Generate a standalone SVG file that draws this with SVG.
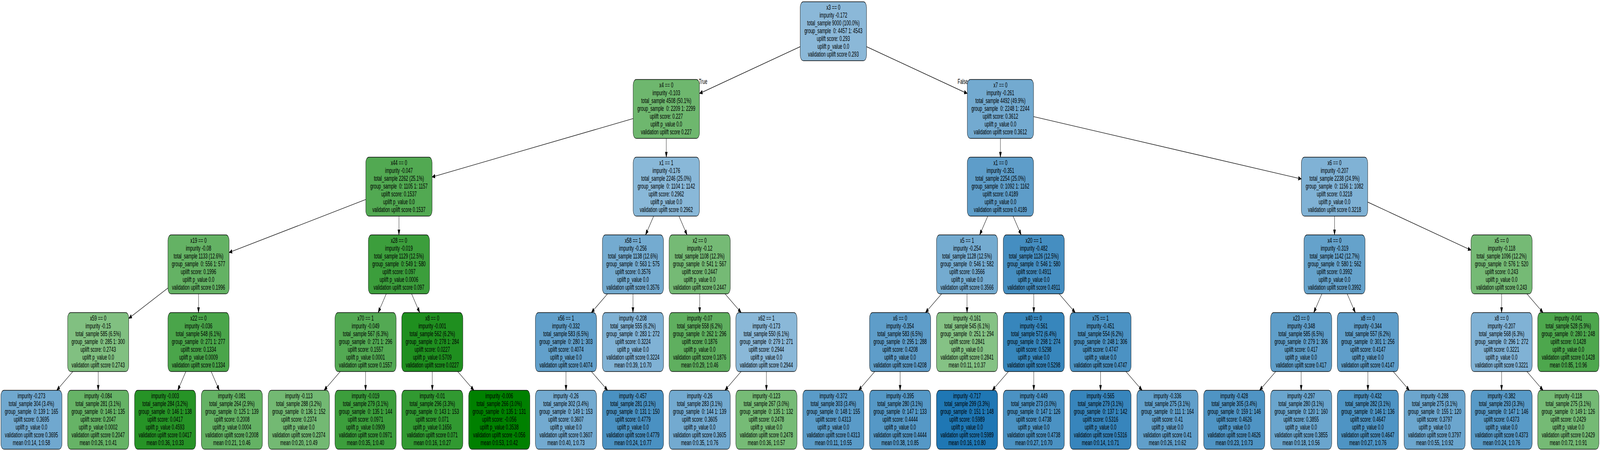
<svg xmlns="http://www.w3.org/2000/svg" width="7121" height="1155" viewBox="0 0 7121 1155" preserveAspectRatio="none" style="width:100vw;height:100vh;display:block">
<style>
text{font-family:"Liberation Sans",Arial,Helvetica,sans-serif;font-size:18.67px;text-anchor:middle;fill:#000;white-space:pre}
.node rect{stroke:#000;stroke-width:1.33}
#edges line{stroke:#000;stroke-width:1.33;fill:none;marker-end:url(#ah)}
</style>
<defs>
<marker id="ah" markerUnits="userSpaceOnUse" markerWidth="16" markerHeight="12" viewBox="0 0 16 12" refX="13.8" refY="6" orient="auto"><path d="M0.5,1.1 L13.8,6 L0.5,10.9 z" fill="#000" stroke="#000" stroke-width="1"/></marker>
</defs>
<rect x="0" y="0" width="7121" height="1155" fill="#fff"/>
<g id="edges">
<line x1="3561.5" y1="119.5" x2="3113" y2="239.5"/>
<line x1="3856.5" y1="119.5" x2="4305" y2="239.5"/>
<line x1="2818" y1="303.7" x2="1923" y2="453.3"/>
<line x1="2965.5" y1="354.5" x2="2965.5" y2="402.5"/>
<line x1="4452.5" y1="354.5" x2="4452.5" y2="402.5"/>
<line x1="4600" y1="298.7" x2="5792" y2="458.3"/>
<line x1="1628" y1="510.9" x2="1019.5" y2="646.7"/>
<line x1="1775.5" y1="553.5" x2="1775.5" y2="601.5"/>
<line x1="2909.2" y1="553.5" x2="2873.3" y2="601.5"/>
<line x1="3021.8" y1="553.5" x2="3057.7" y2="601.5"/>
<line x1="4396.2" y1="553.5" x2="4360.3" y2="601.5"/>
<line x1="4508.8" y1="553.5" x2="4544.7" y2="601.5"/>
<line x1="5939.5" y1="553.5" x2="5939.5" y2="601.5"/>
<line x1="6087" y1="517.5" x2="6547" y2="640.6"/>
<line x1="747.5" y1="737.6" x2="573" y2="815.4"/>
<line x1="883.5" y1="752.5" x2="883.5" y2="800.5"/>
<line x1="1719.2" y1="752.5" x2="1683.3" y2="800.5"/>
<line x1="1831.8" y1="752.5" x2="1867.7" y2="800.5"/>
<line x1="2703.9" y1="752.5" x2="2632.1" y2="800.5"/>
<line x1="2817" y1="752.5" x2="2817" y2="800.5"/>
<line x1="3114" y1="752.5" x2="3114" y2="800.5"/>
<line x1="3226.8" y1="752.5" x2="3298.6" y2="800.5"/>
<line x1="4190.9" y1="752.5" x2="4119.1" y2="800.5"/>
<line x1="4304" y1="752.5" x2="4304" y2="800.5"/>
<line x1="4601" y1="752.5" x2="4601" y2="800.5"/>
<line x1="4713.7" y1="752.5" x2="4785.3" y2="800.5"/>
<line x1="5883.2" y1="752.5" x2="5847.3" y2="800.5"/>
<line x1="5995.8" y1="752.5" x2="6031.7" y2="800.5"/>
<line x1="6683" y1="752.5" x2="6683" y2="800.5"/>
<line x1="6795.7" y1="752.5" x2="6867.3" y2="800.5"/>
<line x1="324.3" y1="951.5" x2="252.7" y2="999.5"/>
<line x1="437" y1="951.5" x2="437" y2="999.5"/>
<line x1="827.2" y1="951.5" x2="791.3" y2="999.5"/>
<line x1="939.8" y1="951.5" x2="975.7" y2="999.5"/>
<line x1="1514.3" y1="951.5" x2="1442.7" y2="999.5"/>
<line x1="1627" y1="951.5" x2="1627" y2="999.5"/>
<line x1="1924" y1="951.5" x2="1924" y2="999.5"/>
<line x1="2037.1" y1="951.5" x2="2108.9" y2="999.5"/>
<line x1="2519" y1="951.5" x2="2519" y2="999.5"/>
<line x1="2632.1" y1="951.5" x2="2703.9" y2="999.5"/>
<line x1="3298.3" y1="951.5" x2="3226.7" y2="999.5"/>
<line x1="3411" y1="951.5" x2="3411" y2="999.5"/>
<line x1="3893.3" y1="951.5" x2="3821.7" y2="999.5"/>
<line x1="4006" y1="951.5" x2="4006" y2="999.5"/>
<line x1="4488.3" y1="951.5" x2="4416.7" y2="999.5"/>
<line x1="4601" y1="951.5" x2="4601" y2="999.5"/>
<line x1="4898" y1="951.5" x2="4898" y2="999.5"/>
<line x1="5011.1" y1="951.5" x2="5082.9" y2="999.5"/>
<line x1="5677.9" y1="951.5" x2="5606.1" y2="999.5"/>
<line x1="5791" y1="951.5" x2="5791" y2="999.5"/>
<line x1="6088" y1="951.5" x2="6088" y2="999.5"/>
<line x1="6200.7" y1="951.5" x2="6272.3" y2="999.5"/>
<line x1="6683" y1="951.5" x2="6683" y2="999.5"/>
<line x1="6795.7" y1="951.5" x2="6867.3" y2="999.5"/>
<text x="3129" y="215">True</text>
<text x="4285" y="215">False</text>
</g>
<g id="nodes">
<g id="n0" class="node"><rect x="3561.5" y="4.5" width="295" height="151" rx="14" fill="#8bb8d8"/><text x="3709" y="25.5"><tspan x="3709">x3 == 0</tspan><tspan x="3709" dy="20">impurity -0.172</tspan><tspan x="3709" dy="20">total_sample 9000 (100.0%)</tspan><tspan x="3709" dy="20">group_sample  0: 4457 1: 4543</tspan><tspan x="3709" dy="20">uplift score: 0.293</tspan><tspan x="3709" dy="20">uplift p_value 0.0</tspan><tspan x="3709" dy="20">validation uplift score 0.293</tspan></text></g>
<g id="n_x4" class="node"><rect x="2818" y="203.5" width="295" height="151" rx="14" fill="#6eb76e"/><text x="2965.5" y="224.5"><tspan x="2965.5">x4 == 0</tspan><tspan x="2965.5" dy="20">impurity -0.103</tspan><tspan x="2965.5" dy="20">total_sample 4508 (50.1%)</tspan><tspan x="2965.5" dy="20">group_sample  0: 2209 1: 2299</tspan><tspan x="2965.5" dy="20">uplift score: 0.227</tspan><tspan x="2965.5" dy="20">uplift p_value 0.0</tspan><tspan x="2965.5" dy="20">validation uplift score 0.227</tspan></text></g>
<g id="n_x7" class="node"><rect x="4305" y="203.5" width="295" height="151" rx="14" fill="#73aad0"/><text x="4452.5" y="224.5"><tspan x="4452.5">x7 == 0</tspan><tspan x="4452.5" dy="20">impurity -0.261</tspan><tspan x="4452.5" dy="20">total_sample 4492 (49.9%)</tspan><tspan x="4452.5" dy="20">group_sample  0: 2248 1: 2244</tspan><tspan x="4452.5" dy="20">uplift score: 0.3612</tspan><tspan x="4452.5" dy="20">uplift p_value 0.0</tspan><tspan x="4452.5" dy="20">validation uplift score 0.3612</tspan></text></g>
<g id="n_x44" class="node"><rect x="1628" y="402.5" width="295" height="151" rx="14" fill="#52a952"/><text x="1775.5" y="423.5"><tspan x="1775.5">x44 == 0</tspan><tspan x="1775.5" dy="20">impurity -0.047</tspan><tspan x="1775.5" dy="20">total_sample 2262 (25.1%)</tspan><tspan x="1775.5" dy="20">group_sample  0: 1105 1: 1157</tspan><tspan x="1775.5" dy="20">uplift score: 0.1537</tspan><tspan x="1775.5" dy="20">uplift p_value 0.0</tspan><tspan x="1775.5" dy="20">validation uplift score 0.1537</tspan></text></g>
<g id="n_x1a" class="node"><rect x="2818" y="402.5" width="295" height="151" rx="14" fill="#89b8d8"/><text x="2965.5" y="423.5"><tspan x="2965.5">x1 == 1</tspan><tspan x="2965.5" dy="20">impurity -0.176</tspan><tspan x="2965.5" dy="20">total_sample 2246 (25.0%)</tspan><tspan x="2965.5" dy="20">group_sample  0: 1104 1: 1142</tspan><tspan x="2965.5" dy="20">uplift score: 0.2962</tspan><tspan x="2965.5" dy="20">uplift p_value 0.0</tspan><tspan x="2965.5" dy="20">validation uplift score 0.2962</tspan></text></g>
<g id="n_x1b" class="node"><rect x="4305" y="402.5" width="295" height="151" rx="14" fill="#5e9dc9"/><text x="4452.5" y="423.5"><tspan x="4452.5">x1 == 0</tspan><tspan x="4452.5" dy="20">impurity -0.351</tspan><tspan x="4452.5" dy="20">total_sample 2254 (25.0%)</tspan><tspan x="4452.5" dy="20">group_sample  0: 1092 1: 1162</tspan><tspan x="4452.5" dy="20">uplift score: 0.4189</tspan><tspan x="4452.5" dy="20">uplift p_value 0.0</tspan><tspan x="4452.5" dy="20">validation uplift score 0.4189</tspan></text></g>
<g id="n_x6" class="node"><rect x="5792" y="402.5" width="295" height="151" rx="14" fill="#80b2d5"/><text x="5939.5" y="423.5"><tspan x="5939.5">x6 == 0</tspan><tspan x="5939.5" dy="20">impurity -0.207</tspan><tspan x="5939.5" dy="20">total_sample 2238 (24.9%)</tspan><tspan x="5939.5" dy="20">group_sample  0: 1156 1: 1082</tspan><tspan x="5939.5" dy="20">uplift score: 0.3218</tspan><tspan x="5939.5" dy="20">uplift p_value 0.0</tspan><tspan x="5939.5" dy="20">validation uplift score 0.3218</tspan></text></g>
<g id="n_x19" class="node"><rect x="747.5" y="601.5" width="272" height="151" rx="14" fill="#64b264"/><text x="883.5" y="622.5"><tspan x="883.5">x19 == 0</tspan><tspan x="883.5" dy="20">impurity -0.08</tspan><tspan x="883.5" dy="20">total_sample 1133 (12.6%)</tspan><tspan x="883.5" dy="20">group_sample  0: 556 1: 577</tspan><tspan x="883.5" dy="20">uplift score: 0.1996</tspan><tspan x="883.5" dy="20">uplift p_value 0.0</tspan><tspan x="883.5" dy="20">validation uplift score 0.1996</tspan></text></g>
<g id="n_x28" class="node"><rect x="1639.5" y="601.5" width="272" height="151" rx="14" fill="#3c9e3c"/><text x="1775.5" y="622.5"><tspan x="1775.5">x28 == 0</tspan><tspan x="1775.5" dy="20">impurity -0.019</tspan><tspan x="1775.5" dy="20">total_sample 1129 (12.5%)</tspan><tspan x="1775.5" dy="20">group_sample  0: 549 1: 580</tspan><tspan x="1775.5" dy="20">uplift score: 0.097</tspan><tspan x="1775.5" dy="20">uplift p_value 0.0006</tspan><tspan x="1775.5" dy="20">validation uplift score 0.097</tspan></text></g>
<g id="n_x58" class="node"><rect x="2681" y="601.5" width="272" height="151" rx="14" fill="#74abd0"/><text x="2817" y="622.5"><tspan x="2817">x58 == 1</tspan><tspan x="2817" dy="20">impurity -0.256</tspan><tspan x="2817" dy="20">total_sample 1138 (12.6%)</tspan><tspan x="2817" dy="20">group_sample  0: 563 1: 575</tspan><tspan x="2817" dy="20">uplift score: 0.3576</tspan><tspan x="2817" dy="20">uplift p_value 0.0</tspan><tspan x="2817" dy="20">validation uplift score 0.3576</tspan></text></g>
<g id="n_x2" class="node"><rect x="2978" y="601.5" width="272" height="151" rx="14" fill="#75ba75"/><text x="3114" y="622.5"><tspan x="3114">x2 == 0</tspan><tspan x="3114" dy="20">impurity -0.12</tspan><tspan x="3114" dy="20">total_sample 1108 (12.3%)</tspan><tspan x="3114" dy="20">group_sample  0: 541 1: 567</tspan><tspan x="3114" dy="20">uplift score: 0.2447</tspan><tspan x="3114" dy="20">uplift p_value 0.0</tspan><tspan x="3114" dy="20">validation uplift score 0.2447</tspan></text></g>
<g id="n_x5a" class="node"><rect x="4168" y="601.5" width="272" height="151" rx="14" fill="#74abd0"/><text x="4304" y="622.5"><tspan x="4304">x5 == 1</tspan><tspan x="4304" dy="20">impurity -0.254</tspan><tspan x="4304" dy="20">total_sample 1128 (12.5%)</tspan><tspan x="4304" dy="20">group_sample  0: 546 1: 582</tspan><tspan x="4304" dy="20">uplift score: 0.3566</tspan><tspan x="4304" dy="20">uplift p_value 0.0</tspan><tspan x="4304" dy="20">validation uplift score 0.3566</tspan></text></g>
<g id="n_x20" class="node"><rect x="4465" y="601.5" width="272" height="151" rx="14" fill="#458ec1"/><text x="4601" y="622.5"><tspan x="4601">x20 == 1</tspan><tspan x="4601" dy="20">impurity -0.482</tspan><tspan x="4601" dy="20">total_sample 1126 (12.5%)</tspan><tspan x="4601" dy="20">group_sample  0: 546 1: 580</tspan><tspan x="4601" dy="20">uplift score: 0.4911</tspan><tspan x="4601" dy="20">uplift p_value 0.0</tspan><tspan x="4601" dy="20">validation uplift score 0.4911</tspan></text></g>
<g id="n_x4b" class="node"><rect x="5803.5" y="601.5" width="272" height="151" rx="14" fill="#65a2cb"/><text x="5939.5" y="622.5"><tspan x="5939.5">x4 == 0</tspan><tspan x="5939.5" dy="20">impurity -0.319</tspan><tspan x="5939.5" dy="20">total_sample 1142 (12.7%)</tspan><tspan x="5939.5" dy="20">group_sample  0: 580 1: 562</tspan><tspan x="5939.5" dy="20">uplift score: 0.3992</tspan><tspan x="5939.5" dy="20">uplift p_value 0.0</tspan><tspan x="5939.5" dy="20">validation uplift score 0.3992</tspan></text></g>
<g id="n_x5b" class="node"><rect x="6547" y="601.5" width="272" height="151" rx="14" fill="#75ba75"/><text x="6683" y="622.5"><tspan x="6683">x5 == 0</tspan><tspan x="6683" dy="20">impurity -0.118</tspan><tspan x="6683" dy="20">total_sample 1096 (12.2%)</tspan><tspan x="6683" dy="20">group_sample  0: 576 1: 520</tspan><tspan x="6683" dy="20">uplift score: 0.243</tspan><tspan x="6683" dy="20">uplift p_value 0.0</tspan><tspan x="6683" dy="20">validation uplift score 0.243</tspan></text></g>
<g id="n_x59" class="node"><rect x="301" y="800.5" width="272" height="151" rx="14" fill="#81c081"/><text x="437" y="821.5"><tspan x="437">x59 == 0</tspan><tspan x="437" dy="20">impurity -0.15</tspan><tspan x="437" dy="20">total_sample 585 (6.5%)</tspan><tspan x="437" dy="20">group_sample  0: 285 1: 300</tspan><tspan x="437" dy="20">uplift score: 0.2743</tspan><tspan x="437" dy="20">uplift p_value 0.0</tspan><tspan x="437" dy="20">validation uplift score 0.2743</tspan></text></g>
<g id="n_x22" class="node"><rect x="747.5" y="800.5" width="272" height="151" rx="14" fill="#4aa54a"/><text x="883.5" y="821.5"><tspan x="883.5">x22 == 0</tspan><tspan x="883.5" dy="20">impurity -0.036</tspan><tspan x="883.5" dy="20">total_sample 548 (6.1%)</tspan><tspan x="883.5" dy="20">group_sample  0: 271 1: 277</tspan><tspan x="883.5" dy="20">uplift score: 0.1334</tspan><tspan x="883.5" dy="20">uplift p_value 0.0009</tspan><tspan x="883.5" dy="20">validation uplift score 0.1334</tspan></text></g>
<g id="n_x70" class="node"><rect x="1491" y="800.5" width="272" height="151" rx="14" fill="#53a953"/><text x="1627" y="821.5"><tspan x="1627">x70 == 1</tspan><tspan x="1627" dy="20">impurity -0.049</tspan><tspan x="1627" dy="20">total_sample 567 (6.3%)</tspan><tspan x="1627" dy="20">group_sample  0: 271 1: 296</tspan><tspan x="1627" dy="20">uplift score: 0.1557</tspan><tspan x="1627" dy="20">uplift p_value 0.0001</tspan><tspan x="1627" dy="20">validation uplift score 0.1557</tspan></text></g>
<g id="n_x8a" class="node"><rect x="1788" y="800.5" width="272" height="151" rx="14" fill="#1f8f1f"/><text x="1924" y="821.5"><tspan x="1924">x8 == 0</tspan><tspan x="1924" dy="20">impurity -0.001</tspan><tspan x="1924" dy="20">total_sample 562 (6.2%)</tspan><tspan x="1924" dy="20">group_sample  0: 278 1: 284</tspan><tspan x="1924" dy="20">uplift score: 0.0227</tspan><tspan x="1924" dy="20">uplift p_value 0.5709</tspan><tspan x="1924" dy="20">validation uplift score 0.0227</tspan></text></g>
<g id="n_x56" class="node"><rect x="2383" y="800.5" width="272" height="151" rx="14" fill="#62a0cb"/><text x="2519" y="821.5"><tspan x="2519">x56 == 1</tspan><tspan x="2519" dy="20">impurity -0.332</tspan><tspan x="2519" dy="20">total_sample 583 (6.5%)</tspan><tspan x="2519" dy="20">group_sample  0: 280 1: 303</tspan><tspan x="2519" dy="20">uplift score: 0.4074</tspan><tspan x="2519" dy="20">uplift p_value 0.0</tspan><tspan x="2519" dy="20">validation uplift score 0.4074</tspan></text></g>
<g id="n_lA" class="node"><rect x="2681" y="800.5" width="272" height="151" rx="14" fill="#80b2d5"/><text x="2817" y="821.5"><tspan x="2817">impurity -0.208</tspan><tspan x="2817" dy="20">total_sample 555 (6.2%)</tspan><tspan x="2817" dy="20">group_sample  0: 283 1: 272</tspan><tspan x="2817" dy="20">uplift score: 0.3224</tspan><tspan x="2817" dy="20">uplift p_value 0.0</tspan><tspan x="2817" dy="20">validation uplift score 0.3224</tspan><tspan x="2817" dy="20">mean 0:0.39, 1:0.70</tspan></text></g>
<g id="n_lB" class="node"><rect x="2978" y="800.5" width="272" height="151" rx="14" fill="#5faf5f"/><text x="3114" y="821.5"><tspan x="3114">impurity -0.07</tspan><tspan x="3114" dy="20">total_sample 558 (6.2%)</tspan><tspan x="3114" dy="20">group_sample  0: 262 1: 296</tspan><tspan x="3114" dy="20">uplift score: 0.1876</tspan><tspan x="3114" dy="20">uplift p_value 0.0</tspan><tspan x="3114" dy="20">validation uplift score 0.1876</tspan><tspan x="3114" dy="20">mean 0:0.29, 1:0.46</tspan></text></g>
<g id="n_x62" class="node"><rect x="3275" y="800.5" width="272" height="151" rx="14" fill="#8ab8d8"/><text x="3411" y="821.5"><tspan x="3411">x62 == 1</tspan><tspan x="3411" dy="20">impurity -0.173</tspan><tspan x="3411" dy="20">total_sample 550 (6.1%)</tspan><tspan x="3411" dy="20">group_sample  0: 279 1: 271</tspan><tspan x="3411" dy="20">uplift score: 0.2944</tspan><tspan x="3411" dy="20">uplift p_value 0.0</tspan><tspan x="3411" dy="20">validation uplift score 0.2944</tspan></text></g>
<g id="n_x6b" class="node"><rect x="3870" y="800.5" width="272" height="151" rx="14" fill="#5e9dc9"/><text x="4006" y="821.5"><tspan x="4006">x6 == 0</tspan><tspan x="4006" dy="20">impurity -0.354</tspan><tspan x="4006" dy="20">total_sample 583 (6.5%)</tspan><tspan x="4006" dy="20">group_sample  0: 295 1: 288</tspan><tspan x="4006" dy="20">uplift score: 0.4208</tspan><tspan x="4006" dy="20">uplift p_value 0.0</tspan><tspan x="4006" dy="20">validation uplift score 0.4208</tspan></text></g>
<g id="n_lC" class="node"><rect x="4168" y="800.5" width="272" height="151" rx="14" fill="#85c285"/><text x="4304" y="821.5"><tspan x="4304">impurity -0.161</tspan><tspan x="4304" dy="20">total_sample 545 (6.1%)</tspan><tspan x="4304" dy="20">group_sample  0: 251 1: 294</tspan><tspan x="4304" dy="20">uplift score: 0.2841</tspan><tspan x="4304" dy="20">uplift p_value 0.0</tspan><tspan x="4304" dy="20">validation uplift score 0.2841</tspan><tspan x="4304" dy="20">mean 0:0.11, 1:0.37</tspan></text></g>
<g id="n_x40" class="node"><rect x="4465" y="800.5" width="272" height="151" rx="14" fill="#3786bc"/><text x="4601" y="821.5"><tspan x="4601">x40 == 0</tspan><tspan x="4601" dy="20">impurity -0.561</tspan><tspan x="4601" dy="20">total_sample 572 (6.4%)</tspan><tspan x="4601" dy="20">group_sample  0: 298 1: 274</tspan><tspan x="4601" dy="20">uplift score: 0.5298</tspan><tspan x="4601" dy="20">uplift p_value 0.0</tspan><tspan x="4601" dy="20">validation uplift score 0.5298</tspan></text></g>
<g id="n_x75" class="node"><rect x="4762" y="800.5" width="272" height="151" rx="14" fill="#4b92c3"/><text x="4898" y="821.5"><tspan x="4898">x75 == 1</tspan><tspan x="4898" dy="20">impurity -0.451</tspan><tspan x="4898" dy="20">total_sample 554 (6.2%)</tspan><tspan x="4898" dy="20">group_sample  0: 248 1: 306</tspan><tspan x="4898" dy="20">uplift score: 0.4747</tspan><tspan x="4898" dy="20">uplift p_value 0.0</tspan><tspan x="4898" dy="20">validation uplift score 0.4747</tspan></text></g>
<g id="n_x23" class="node"><rect x="5655" y="800.5" width="272" height="151" rx="14" fill="#5f9ec9"/><text x="5791" y="821.5"><tspan x="5791">x23 == 0</tspan><tspan x="5791" dy="20">impurity -0.348</tspan><tspan x="5791" dy="20">total_sample 585 (6.5%)</tspan><tspan x="5791" dy="20">group_sample  0: 279 1: 306</tspan><tspan x="5791" dy="20">uplift score: 0.417</tspan><tspan x="5791" dy="20">uplift p_value 0.0</tspan><tspan x="5791" dy="20">validation uplift score 0.417</tspan></text></g>
<g id="n_x8b" class="node"><rect x="5952" y="800.5" width="272" height="151" rx="14" fill="#5f9eca"/><text x="6088" y="821.5"><tspan x="6088">x8 == 0</tspan><tspan x="6088" dy="20">impurity -0.344</tspan><tspan x="6088" dy="20">total_sample 557 (6.2%)</tspan><tspan x="6088" dy="20">group_sample  0: 301 1: 256</tspan><tspan x="6088" dy="20">uplift score: 0.4147</tspan><tspan x="6088" dy="20">uplift p_value 0.0</tspan><tspan x="6088" dy="20">validation uplift score 0.4147</tspan></text></g>
<g id="n_x8c" class="node"><rect x="6547" y="800.5" width="272" height="151" rx="14" fill="#80b2d5"/><text x="6683" y="821.5"><tspan x="6683">x8 == 0</tspan><tspan x="6683" dy="20">impurity -0.207</tspan><tspan x="6683" dy="20">total_sample 568 (6.3%)</tspan><tspan x="6683" dy="20">group_sample  0: 296 1: 272</tspan><tspan x="6683" dy="20">uplift score: 0.3221</tspan><tspan x="6683" dy="20">uplift p_value 0.0</tspan><tspan x="6683" dy="20">validation uplift score 0.3221</tspan></text></g>
<g id="n_lD" class="node"><rect x="6844" y="800.5" width="272" height="151" rx="14" fill="#4da74d"/><text x="6980" y="821.5"><tspan x="6980">impurity -0.041</tspan><tspan x="6980" dy="20">total_sample 528 (5.9%)</tspan><tspan x="6980" dy="20">group_sample  0: 280 1: 248</tspan><tspan x="6980" dy="20">uplift score: 0.1428</tspan><tspan x="6980" dy="20">uplift p_value 0.0</tspan><tspan x="6980" dy="20">validation uplift score 0.1428</tspan><tspan x="6980" dy="20">mean 0:0.85, 1:0.96</tspan></text></g>
<g id="s0" class="node"><rect x="4" y="999.5" width="272" height="151" rx="14" fill="#70a8cf"/><text x="140" y="1020.5"><tspan x="140">impurity -0.273</tspan><tspan x="140" dy="20">total_sample 304 (3.4%)</tspan><tspan x="140" dy="20">group_sample  0: 139 1: 165</tspan><tspan x="140" dy="20">uplift score: 0.3695</tspan><tspan x="140" dy="20">uplift p_value 0.0</tspan><tspan x="140" dy="20">validation uplift score 0.3695</tspan><tspan x="140" dy="20">mean 0:0.14, 1:0.58</tspan></text></g>
<g id="s1" class="node"><rect x="301" y="999.5" width="272" height="151" rx="14" fill="#66b366"/><text x="437" y="1020.5"><tspan x="437">impurity -0.084</tspan><tspan x="437" dy="20">total_sample 281 (3.1%)</tspan><tspan x="437" dy="20">group_sample  0: 146 1: 135</tspan><tspan x="437" dy="20">uplift score: 0.2047</tspan><tspan x="437" dy="20">uplift p_value 0.0002</tspan><tspan x="437" dy="20">validation uplift score 0.2047</tspan><tspan x="437" dy="20">mean 0:0.26, 1:0.41</tspan></text></g>
<g id="s2" class="node"><rect x="599" y="999.5" width="272" height="151" rx="14" fill="#269326"/><text x="735" y="1020.5"><tspan x="735">impurity -0.003</tspan><tspan x="735" dy="20">total_sample 284 (3.2%)</tspan><tspan x="735" dy="20">group_sample  0: 146 1: 138</tspan><tspan x="735" dy="20">uplift score: 0.0417</tspan><tspan x="735" dy="20">uplift p_value 0.4593</tspan><tspan x="735" dy="20">validation uplift score 0.0417</tspan><tspan x="735" dy="20">mean 0:0.36, 1:0.33</tspan></text></g>
<g id="s3" class="node"><rect x="896" y="999.5" width="272" height="151" rx="14" fill="#64b264"/><text x="1032" y="1020.5"><tspan x="1032">impurity -0.081</tspan><tspan x="1032" dy="20">total_sample 264 (2.9%)</tspan><tspan x="1032" dy="20">group_sample  0: 125 1: 139</tspan><tspan x="1032" dy="20">uplift score: 0.2008</tspan><tspan x="1032" dy="20">uplift p_value 0.0004</tspan><tspan x="1032" dy="20">validation uplift score 0.2008</tspan><tspan x="1032" dy="20">mean 0:0.21, 1:0.46</tspan></text></g>
<g id="s4" class="node"><rect x="1194" y="999.5" width="272" height="151" rx="14" fill="#73b973"/><text x="1330" y="1020.5"><tspan x="1330">impurity -0.113</tspan><tspan x="1330" dy="20">total_sample 288 (3.2%)</tspan><tspan x="1330" dy="20">group_sample  0: 136 1: 152</tspan><tspan x="1330" dy="20">uplift score: 0.2374</tspan><tspan x="1330" dy="20">uplift p_value 0.0</tspan><tspan x="1330" dy="20">validation uplift score 0.2374</tspan><tspan x="1330" dy="20">mean 0:0.20, 1:0.49</tspan></text></g>
<g id="s5" class="node"><rect x="1491" y="999.5" width="272" height="151" rx="14" fill="#3c9e3c"/><text x="1627" y="1020.5"><tspan x="1627">impurity -0.019</tspan><tspan x="1627" dy="20">total_sample 279 (3.1%)</tspan><tspan x="1627" dy="20">group_sample  0: 135 1: 144</tspan><tspan x="1627" dy="20">uplift score: 0.0971</tspan><tspan x="1627" dy="20">uplift p_value 0.0909</tspan><tspan x="1627" dy="20">validation uplift score 0.0971</tspan><tspan x="1627" dy="20">mean 0:0.35, 1:0.40</tspan></text></g>
<g id="s6" class="node"><rect x="1788" y="999.5" width="272" height="151" rx="14" fill="#319931"/><text x="1924" y="1020.5"><tspan x="1924">impurity -0.01</tspan><tspan x="1924" dy="20">total_sample 296 (3.3%)</tspan><tspan x="1924" dy="20">group_sample  0: 143 1: 153</tspan><tspan x="1924" dy="20">uplift score: 0.071</tspan><tspan x="1924" dy="20">uplift p_value 0.1656</tspan><tspan x="1924" dy="20">validation uplift score 0.071</tspan><tspan x="1924" dy="20">mean 0:0.16, 1:0.27</tspan></text></g>
<g id="s7" class="node"><rect x="2086" y="999.5" width="272" height="151" rx="14" fill="#008000"/><text x="2222" y="1020.5"><tspan x="2222">impurity -0.006</tspan><tspan x="2222" dy="20">total_sample 266 (3.0%)</tspan><tspan x="2222" dy="20">group_sample  0: 135 1: 131</tspan><tspan x="2222" dy="20">uplift score: -0.056</tspan><tspan x="2222" dy="20">uplift p_value 0.3538</tspan><tspan x="2222" dy="20">validation uplift score -0.056</tspan><tspan x="2222" dy="20">mean 0:0.53, 1:0.42</tspan></text></g>
<g id="s8" class="node"><rect x="2383" y="999.5" width="272" height="151" rx="14" fill="#73aad0"/><text x="2519" y="1020.5"><tspan x="2519">impurity -0.26</tspan><tspan x="2519" dy="20">total_sample 302 (3.4%)</tspan><tspan x="2519" dy="20">group_sample  0: 149 1: 153</tspan><tspan x="2519" dy="20">uplift score: 0.3607</tspan><tspan x="2519" dy="20">uplift p_value 0.0</tspan><tspan x="2519" dy="20">validation uplift score 0.3607</tspan><tspan x="2519" dy="20">mean 0:0.40, 1:0.73</tspan></text></g>
<g id="s9" class="node"><rect x="2681" y="999.5" width="272" height="151" rx="14" fill="#4a91c2"/><text x="2817" y="1020.5"><tspan x="2817">impurity -0.457</tspan><tspan x="2817" dy="20">total_sample 281 (3.1%)</tspan><tspan x="2817" dy="20">group_sample  0: 131 1: 150</tspan><tspan x="2817" dy="20">uplift score: 0.4779</tspan><tspan x="2817" dy="20">uplift p_value 0.0</tspan><tspan x="2817" dy="20">validation uplift score 0.4779</tspan><tspan x="2817" dy="20">mean 0:0.24, 1:0.77</tspan></text></g>
<g id="s10" class="node"><rect x="2978" y="999.5" width="272" height="151" rx="14" fill="#73aad0"/><text x="3114" y="1020.5"><tspan x="3114">impurity -0.26</tspan><tspan x="3114" dy="20">total_sample 283 (3.1%)</tspan><tspan x="3114" dy="20">group_sample  0: 144 1: 139</tspan><tspan x="3114" dy="20">uplift score: 0.3605</tspan><tspan x="3114" dy="20">uplift p_value 0.0</tspan><tspan x="3114" dy="20">validation uplift score 0.3605</tspan><tspan x="3114" dy="20">mean 0:0.35, 1:0.76</tspan></text></g>
<g id="s11" class="node"><rect x="3275" y="999.5" width="272" height="151" rx="14" fill="#76bb76"/><text x="3411" y="1020.5"><tspan x="3411">impurity -0.123</tspan><tspan x="3411" dy="20">total_sample 267 (3.0%)</tspan><tspan x="3411" dy="20">group_sample  0: 135 1: 132</tspan><tspan x="3411" dy="20">uplift score: 0.2478</tspan><tspan x="3411" dy="20">uplift p_value 0.0</tspan><tspan x="3411" dy="20">validation uplift score 0.2478</tspan><tspan x="3411" dy="20">mean 0:0.36, 1:0.57</tspan></text></g>
<g id="s12" class="node"><rect x="3573" y="999.5" width="272" height="151" rx="14" fill="#5a9bc8"/><text x="3709" y="1020.5"><tspan x="3709">impurity -0.372</tspan><tspan x="3709" dy="20">total_sample 303 (3.4%)</tspan><tspan x="3709" dy="20">group_sample  0: 148 1: 155</tspan><tspan x="3709" dy="20">uplift score: 0.4313</tspan><tspan x="3709" dy="20">uplift p_value 0.0</tspan><tspan x="3709" dy="20">validation uplift score 0.4313</tspan><tspan x="3709" dy="20">mean 0:0.11, 1:0.55</tspan></text></g>
<g id="s13" class="node"><rect x="3870" y="999.5" width="272" height="151" rx="14" fill="#5598c6"/><text x="4006" y="1020.5"><tspan x="4006">impurity -0.395</tspan><tspan x="4006" dy="20">total_sample 280 (3.1%)</tspan><tspan x="4006" dy="20">group_sample  0: 147 1: 133</tspan><tspan x="4006" dy="20">uplift score: 0.4444</tspan><tspan x="4006" dy="20">uplift p_value 0.0</tspan><tspan x="4006" dy="20">validation uplift score 0.4444</tspan><tspan x="4006" dy="20">mean 0:0.38, 1:0.85</tspan></text></g>
<g id="s14" class="node"><rect x="4168" y="999.5" width="272" height="151" rx="14" fill="#1f77b4"/><text x="4304" y="1020.5"><tspan x="4304">impurity -0.717</tspan><tspan x="4304" dy="20">total_sample 299 (3.3%)</tspan><tspan x="4304" dy="20">group_sample  0: 151 1: 148</tspan><tspan x="4304" dy="20">uplift score: 0.5989</tspan><tspan x="4304" dy="20">uplift p_value 0.0</tspan><tspan x="4304" dy="20">validation uplift score 0.5989</tspan><tspan x="4304" dy="20">mean 0:0.16, 1:0.80</tspan></text></g>
<g id="s15" class="node"><rect x="4465" y="999.5" width="272" height="151" rx="14" fill="#4b92c3"/><text x="4601" y="1020.5"><tspan x="4601">impurity -0.449</tspan><tspan x="4601" dy="20">total_sample 273 (3.0%)</tspan><tspan x="4601" dy="20">group_sample  0: 147 1: 126</tspan><tspan x="4601" dy="20">uplift score: 0.4738</tspan><tspan x="4601" dy="20">uplift p_value 0.0</tspan><tspan x="4601" dy="20">validation uplift score 0.4738</tspan><tspan x="4601" dy="20">mean 0:0.27, 1:0.70</tspan></text></g>
<g id="s16" class="node"><rect x="4762" y="999.5" width="272" height="151" rx="14" fill="#3785bc"/><text x="4898" y="1020.5"><tspan x="4898">impurity -0.565</tspan><tspan x="4898" dy="20">total_sample 279 (3.1%)</tspan><tspan x="4898" dy="20">group_sample  0: 137 1: 142</tspan><tspan x="4898" dy="20">uplift score: 0.5316</tspan><tspan x="4898" dy="20">uplift p_value 0.0</tspan><tspan x="4898" dy="20">validation uplift score 0.5316</tspan><tspan x="4898" dy="20">mean 0:0.14, 1:0.71</tspan></text></g>
<g id="s17" class="node"><rect x="5060" y="999.5" width="272" height="151" rx="14" fill="#619fca"/><text x="5196" y="1020.5"><tspan x="5196">impurity -0.336</tspan><tspan x="5196" dy="20">total_sample 275 (3.1%)</tspan><tspan x="5196" dy="20">group_sample  0: 111 1: 164</tspan><tspan x="5196" dy="20">uplift score: 0.41</tspan><tspan x="5196" dy="20">uplift p_value 0.0</tspan><tspan x="5196" dy="20">validation uplift score 0.41</tspan><tspan x="5196" dy="20">mean 0:0.26, 1:0.62</tspan></text></g>
<g id="s18" class="node"><rect x="5357" y="999.5" width="272" height="151" rx="14" fill="#4f94c4"/><text x="5493" y="1020.5"><tspan x="5493">impurity -0.428</tspan><tspan x="5493" dy="20">total_sample 305 (3.4%)</tspan><tspan x="5493" dy="20">group_sample  0: 159 1: 146</tspan><tspan x="5493" dy="20">uplift score: 0.4626</tspan><tspan x="5493" dy="20">uplift p_value 0.0</tspan><tspan x="5493" dy="20">validation uplift score 0.4626</tspan><tspan x="5493" dy="20">mean 0:0.23, 1:0.73</tspan></text></g>
<g id="s19" class="node"><rect x="5655" y="999.5" width="272" height="151" rx="14" fill="#6aa5cd"/><text x="5791" y="1020.5"><tspan x="5791">impurity -0.297</tspan><tspan x="5791" dy="20">total_sample 280 (3.1%)</tspan><tspan x="5791" dy="20">group_sample  0: 120 1: 160</tspan><tspan x="5791" dy="20">uplift score: 0.3855</tspan><tspan x="5791" dy="20">uplift p_value 0.0</tspan><tspan x="5791" dy="20">validation uplift score 0.3855</tspan><tspan x="5791" dy="20">mean 0:0.18, 1:0.56</tspan></text></g>
<g id="s20" class="node"><rect x="5952" y="999.5" width="272" height="151" rx="14" fill="#4e94c4"/><text x="6088" y="1020.5"><tspan x="6088">impurity -0.432</tspan><tspan x="6088" dy="20">total_sample 282 (3.1%)</tspan><tspan x="6088" dy="20">group_sample  0: 146 1: 136</tspan><tspan x="6088" dy="20">uplift score: 0.4647</tspan><tspan x="6088" dy="20">uplift p_value 0.0</tspan><tspan x="6088" dy="20">validation uplift score 0.4647</tspan><tspan x="6088" dy="20">mean 0:0.27, 1:0.76</tspan></text></g>
<g id="s21" class="node"><rect x="6249" y="999.5" width="272" height="151" rx="14" fill="#6ca6ce"/><text x="6385" y="1020.5"><tspan x="6385">impurity -0.288</tspan><tspan x="6385" dy="20">total_sample 275 (3.1%)</tspan><tspan x="6385" dy="20">group_sample  0: 155 1: 120</tspan><tspan x="6385" dy="20">uplift score: 0.3797</tspan><tspan x="6385" dy="20">uplift p_value 0.0</tspan><tspan x="6385" dy="20">validation uplift score 0.3797</tspan><tspan x="6385" dy="20">mean 0:0.55, 1:0.92</tspan></text></g>
<g id="s22" class="node"><rect x="6547" y="999.5" width="272" height="151" rx="14" fill="#589ac7"/><text x="6683" y="1020.5"><tspan x="6683">impurity -0.382</tspan><tspan x="6683" dy="20">total_sample 293 (3.3%)</tspan><tspan x="6683" dy="20">group_sample  0: 147 1: 146</tspan><tspan x="6683" dy="20">uplift score: 0.4373</tspan><tspan x="6683" dy="20">uplift p_value 0.0</tspan><tspan x="6683" dy="20">validation uplift score 0.4373</tspan><tspan x="6683" dy="20">mean 0:0.24, 1:0.76</tspan></text></g>
<g id="s23" class="node"><rect x="6844" y="999.5" width="272" height="151" rx="14" fill="#75ba75"/><text x="6980" y="1020.5"><tspan x="6980">impurity -0.118</tspan><tspan x="6980" dy="20">total_sample 275 (3.1%)</tspan><tspan x="6980" dy="20">group_sample  0: 149 1: 126</tspan><tspan x="6980" dy="20">uplift score: 0.2429</tspan><tspan x="6980" dy="20">uplift p_value 0.0</tspan><tspan x="6980" dy="20">validation uplift score 0.2429</tspan><tspan x="6980" dy="20">mean 0:0.72, 1:0.91</tspan></text></g>
</g>
</svg>
